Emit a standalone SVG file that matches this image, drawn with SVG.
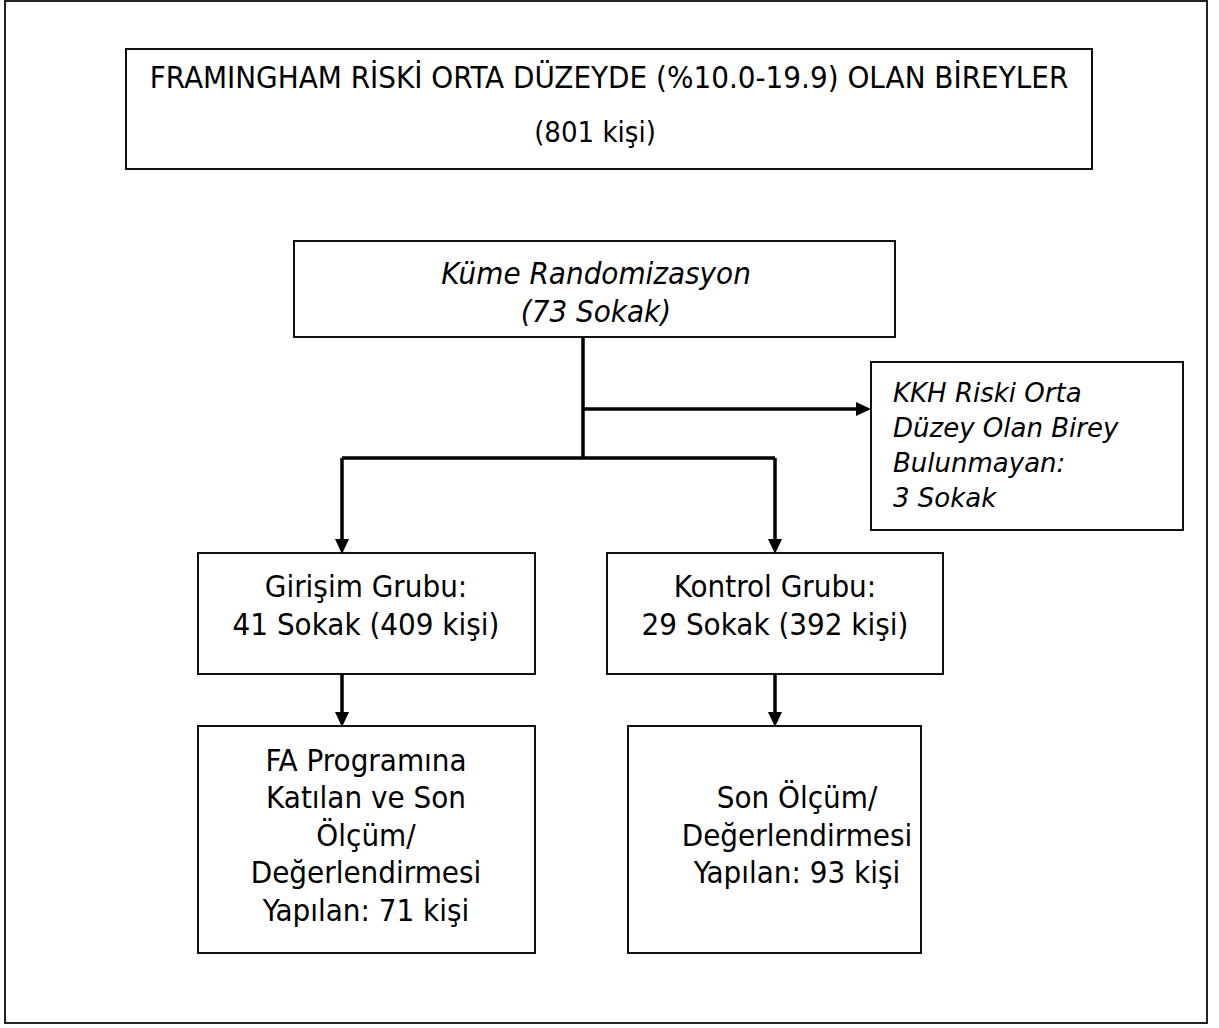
<svg xmlns="http://www.w3.org/2000/svg" width="1219" height="1028" viewBox="0 0 1219 1028">
  <style>
    .frame { fill: #fff; stroke: #222; stroke-width: 2; }
    .box { fill: #fff; stroke: #111; stroke-width: 2; }
    .t { font-family: "DejaVu Sans Condensed", "DejaVu Sans", sans-serif; font-stretch: condensed; font-size: 31px; fill: #000; }
    .small { font-size: 29px; }
    .note { font-family: "DejaVu Sans", sans-serif; font-stretch: normal; font-size: 26px; }
    .c { text-anchor: middle; }
    .i { font-style: italic; }
    .wire { fill: none; stroke: #000; stroke-width: 3.5; }
  </style>
  <defs>
    <marker id="arrow" markerUnits="userSpaceOnUse" markerWidth="16" markerHeight="16" refX="0" refY="7" orient="auto">
      <path d="M0,0 L15,7 L0,14 z" fill="#000"/>
    </marker>
  </defs>

  <rect class="frame" x="5" y="1" width="1202" height="1022"/>

  <g id="population">
    <rect class="box" x="126" y="49" width="966" height="120"/>
    <text class="t c" x="609" y="88">FRAMINGHAM RİSKİ ORTA DÜZEYDE (%10.0-19.9) OLAN BİREYLER</text>
    <text class="t c small" x="595" y="142">(801 kişi)</text>
  </g>

  <g id="randomization">
    <rect class="box" x="294" y="241" width="601" height="96"/>
    <text class="t c i" x="596" y="284">Küme Randomizasyon</text>
    <text class="t c i" x="596" y="322">(73 Sokak)</text>
  </g>

  <g id="excluded">
    <rect class="box" x="871" y="362" width="312" height="168"/>
    <text class="t i note" x="893" y="402">KKH Riski Orta</text>
    <text class="t i note" x="893" y="437">Düzey Olan Birey</text>
    <text class="t i note" x="893" y="472">Bulunmayan:</text>
    <text class="t i note" x="893" y="507">3 Sokak</text>
  </g>

  <g id="intervention">
    <rect class="box" x="198" y="553" width="337" height="121"/>
    <text class="t c" x="366" y="597">Girişim Grubu:</text>
    <text class="t c" x="366" y="635">41 Sokak (409 kişi)</text>
  </g>

  <g id="control">
    <rect class="box" x="607" y="553" width="336" height="121"/>
    <text class="t c" x="775" y="597">Kontrol Grubu:</text>
    <text class="t c" x="775" y="635">29 Sokak (392 kişi)</text>
  </g>

  <g id="intervention-final">
    <rect class="box" x="198" y="726" width="337" height="227"/>
    <text class="t c" x="366" y="771">FA Programına</text>
    <text class="t c" x="366" y="808">Katılan ve Son</text>
    <text class="t c" x="366" y="846">Ölçüm/</text>
    <text class="t c" x="366" y="883">Değerlendirmesi</text>
    <text class="t c" x="366" y="921">Yapılan: 71 kişi</text>
  </g>

  <g id="control-final">
    <rect class="box" x="628" y="726" width="293" height="227"/>
    <text class="t c" x="797" y="808">Son Ölçüm/</text>
    <text class="t c" x="797" y="846">Değerlendirmesi</text>
    <text class="t c" x="797" y="883">Yapılan: 93 kişi</text>
  </g>

  <g id="connectors">
    <path class="wire" d="M583,337 V458"/>
    <path class="wire" d="M583,409 H856" marker-end="url(#arrow)"/>
    <path class="wire" d="M342,458 H775"/>
    <path class="wire" d="M342,458 V539" marker-end="url(#arrow)"/>
    <path class="wire" d="M775,458 V539" marker-end="url(#arrow)"/>
    <path class="wire" d="M342,674 V712" marker-end="url(#arrow)"/>
    <path class="wire" d="M775,674 V712" marker-end="url(#arrow)"/>
  </g>
</svg>
